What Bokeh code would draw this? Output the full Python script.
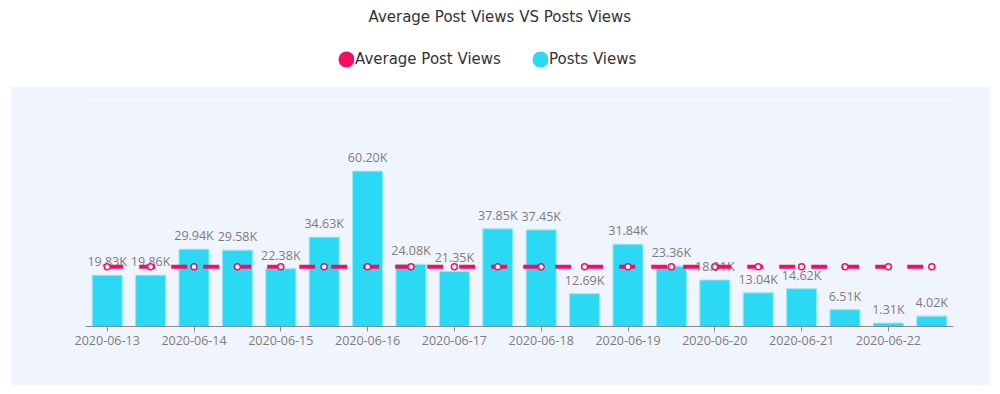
import numpy as np
from bokeh.plotting import figure
from bokeh.layouts import column
from bokeh.models import (Range1d, FixedTicker, ColumnDataSource, Legend, LegendItem)
from bokeh.embed import file_html
from bokeh.resources import INLINE
from bokeh.core.properties import value

# ---- data ----
timestamps = [
    "2020-06-13 00:00", "2020-06-13 12:00", "2020-06-14 00:00", "2020-06-14 12:00",
    "2020-06-15 00:00", "2020-06-15 12:00", "2020-06-16 00:00", "2020-06-16 12:00",
    "2020-06-17 00:00", "2020-06-17 12:00", "2020-06-18 00:00", "2020-06-18 12:00",
    "2020-06-19 00:00", "2020-06-19 12:00", "2020-06-20 00:00", "2020-06-20 12:00",
    "2020-06-21 00:00", "2020-06-21 12:00", "2020-06-22 00:00", "2020-06-22 12:00",
]
post_views = [19830, 19860, 29940, 29580, 22380, 34630, 60200, 24080, 21350, 37850,
              37450, 12690, 31840, 23360, 18010, 13040, 14620, 6510, 1310, 4020]
average_views = [sum(post_views) / len(post_views)] * len(post_views)

title_text = "Average Post Views VS Posts Views"
series_names = ["Average Post Views", "Posts Views"]

# ---- derived ----
n = len(post_views)
xs = list(range(1, n + 1))
labels = [f"{v / 1000:.2f}K" for v in post_views]
tick_pos = [x for x, t in zip(xs, timestamps) if t.endswith("00:00")]
tick_text = {x: t[:10] for x, t in zip(xs, timestamps) if t.endswith("00:00")}

BAR = "#2bd9f4"
PINK = "#fb0a62"
GRAY = "#8a8a8a"
PANEL = "#f0f4fc"
FONT = "Open Sans"
HFONT = "DejaVu Sans"

# ---- header figure: title + legend ----
top = figure(width=984, height=86, output_backend="svg", toolbar_location=None,
             x_range=Range1d(0, 1), y_range=Range1d(0, 1),
             x_axis_location=None, y_axis_location=None,
             min_border=0, min_border_top=4, margin=(0, 0, 0, 8))
top.outline_line_color = None
top.xgrid.visible = False
top.ygrid.visible = False
top.background_fill_color = "white"
top.border_fill_color = "white"
top.title.text = title_text
top.title.align = "left"
top.title.offset = 285
top.title.text_font = HFONT
top.title.text_font_size = "15px"
top.title.text_font_style = "normal"
top.title.text_color = "#333333"

# legend swatches (no visible data): small circle + thick same-colour outline -> 16px dot
nan = np.array([np.nan])
d1 = top.scatter(x=nan, y=nan, fill_color=PINK, line_color=PINK, line_width=9.6)
d2 = top.scatter(x=nan, y=nan, fill_color=BAR, line_color=BAR, line_width=9.6)
legend = Legend(items=[LegendItem(label=series_names[0], renderers=[d1]),
                       LegendItem(label=series_names[1], renderers=[d2])],
                orientation="horizontal", location=(255, 18),
                glyph_width=16, glyph_height=16, label_standoff=1,
                spacing=31, padding=0, margin=0,
                border_line_color=None, background_fill_alpha=0,
                label_text_font=HFONT, label_text_font_size="15px",
                label_text_color="#333333")
top.add_layout(legend)

# ---- main chart ----
src = ColumnDataSource(dict(x=xs, v=post_views, avg=average_views, lab=labels))

p = figure(width=980, height=299, output_backend="svg", toolbar_location=None,
           x_range=Range1d(0.5, n + 0.5), y_range=Range1d(0, 87600),
           y_axis_location=None,
           min_border_left=75, min_border_right=37, min_border_top=14,
           min_border_bottom=59, margin=(0, 0, 0, 10))
p.background_fill_color = PANEL
p.border_fill_color = PANEL
p.outline_line_color = None
p.xgrid.visible = False
p.ygrid.visible = False

p.vbar(x="x", top="v", width=0.69, source=src, fill_color=BAR,
       line_color="#8ceaf9", line_width=1)
p.text(x="x", y="v", text="lab", source=src, text_align="center",
       text_baseline="bottom", y_offset=-5, text_color="#7c7c7c",
       text_font=value(FONT), text_font_size="12.5px")

p.line(x="x", y="avg", source=src, line_color=PINK, line_width=4, line_dash="16 16")
p.scatter(x="x", y="avg", source=src, size=6, fill_color="white",
          line_color=PINK, line_width=1.5)

ax = p.xaxis[0]
ax.ticker = FixedTicker(ticks=tick_pos, minor_ticks=[])
ax.major_label_overrides = tick_text
ax.axis_line_color = GRAY
ax.major_tick_line_color = GRAY
ax.major_tick_in = 0
ax.major_tick_out = 5
ax.minor_tick_line_color = None
ax.major_label_text_color = "#7c7c7c"
ax.major_label_text_font = FONT
ax.major_label_text_font_size = "12.5px"
ax.major_label_standoff = 4

layout = column(top, p, spacing=0)
open("out.html", "w").write(file_html(layout, INLINE))
